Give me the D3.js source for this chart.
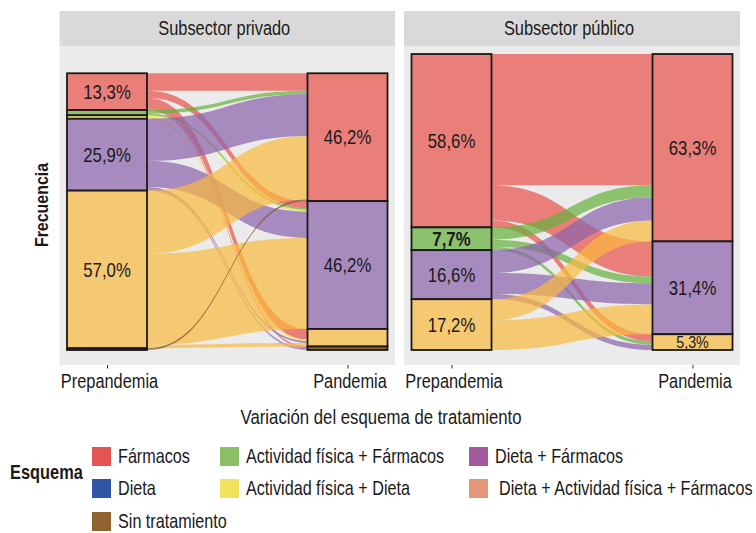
<!DOCTYPE html>
<html>
<head>
<meta charset="utf-8">
<script src="https://cdn.jsdelivr.net/npm/d3@7"></script>
<style>
  body { margin: 0; background: #fff; }
  text { font-family: "Liberation Sans", Arial, sans-serif; fill: #1a1a1a; }
</style>
</head>
<body>
<div id="chart"></div>
<script>
// Axis and panel labels
const periods = ["Prepandemia", "Pandemia"];
const panels = ["Subsector privado", "Subsector público"];

// Stratum order, top to bottom
const strata = [
  "Fármacos",
  "Actividad física + Fármacos",
  "Actividad física + Dieta",
  "Dieta + Fármacos",
  "Dieta + Actividad física + Fármacos",
  "Sin tratamiento"
];

// Legend order (filled by row, 3 columns)
const legendItems = [
  "Fármacos", "Actividad física + Fármacos", "Dieta + Fármacos",
  "Dieta", "Actividad física + Dieta", "Dieta + Actividad física + Fármacos",
  "Sin tratamiento"
];

// Patients moving from prepandemia scheme to pandemia scheme
const privadoFlows = [
  ["Fármacos", "Fármacos", 10],
  ["Fármacos", "Dieta + Fármacos", 4],
  ["Fármacos", "Dieta + Actividad física + Fármacos", 6],
  ["Fármacos", "Sin tratamiento", 1],
  ["Actividad física + Fármacos", "Fármacos", 2],
  ["Actividad física + Fármacos", "Dieta + Fármacos", 1],
  ["Actividad física + Dieta", "Dieta + Fármacos", 1],
  ["Actividad física + Dieta", "Dieta + Actividad física + Fármacos", 1],
  ["Dieta + Fármacos", "Fármacos", 24],
  ["Dieta + Fármacos", "Dieta + Fármacos", 15],
  ["Dieta + Fármacos", "Dieta + Actividad física + Fármacos", 1],
  ["Dieta + Fármacos", "Sin tratamiento", 1],
  ["Dieta + Actividad física + Fármacos", "Fármacos", 36],
  ["Dieta + Actividad física + Fármacos", "Dieta + Fármacos", 52],
  ["Dieta + Actividad física + Fármacos", "Dieta + Actividad física + Fármacos", 2],
  ["Sin tratamiento", "Fármacos", 1]
];

const publicoFlows = [
  ["Fármacos", "Fármacos", 75],
  ["Fármacos", "Dieta + Fármacos", 20],
  ["Fármacos", "Dieta + Actividad física + Fármacos", 4],
  ["Actividad física + Fármacos", "Fármacos", 7],
  ["Actividad física + Fármacos", "Dieta + Fármacos", 4],
  ["Actividad física + Fármacos", "Dieta + Actividad física + Fármacos", 2],
  ["Dieta + Fármacos", "Fármacos", 13],
  ["Dieta + Fármacos", "Dieta + Fármacos", 12],
  ["Dieta + Fármacos", "Dieta + Actividad física + Fármacos", 3],
  ["Dieta + Actividad física + Fármacos", "Fármacos", 12],
  ["Dieta + Actividad física + Fármacos", "Dieta + Fármacos", 17]
];

// Strata that carry a percentage label, per panel and period
const labelled = [
  [["Fármacos", "Dieta + Fármacos", "Dieta + Actividad física + Fármacos"], ["Fármacos", "Dieta + Fármacos"]],
  [["Fármacos", "Actividad física + Fármacos", "Dieta + Fármacos", "Dieta + Actividad física + Fármacos"],
   ["Fármacos", "Dieta + Fármacos", "Dieta + Actividad física + Fármacos"]]
];

const legendColor = {
  "Fármacos": "#e35452",
  "Dieta": "#2f56a4",
  "Sin tratamiento": "#8e6330",
  "Actividad física + Fármacos": "#8cbf68",
  "Actividad física + Dieta": "#f2e35f",
  "Dieta + Fármacos": "#a25a9d",
  "Dieta + Actividad física + Fármacos": "#e3967a"
};
// colours as they appear on the alluvium
const flowColor = {
  "Fármacos": "#e85147",
  "Actividad física + Fármacos": "#65b03a",
  "Actividad física + Dieta": "#eedd40",
  "Dieta + Fármacos": "#8a62ab",
  "Dieta + Actividad física + Fármacos": "#f9b93e",
  "Sin tratamiento": "#7a5228"
};
const strataColor = {
  "Fármacos": "#e97f78",
  "Actividad física + Fármacos": "#8dc26f",
  "Actividad física + Dieta": "#f0e36a",
  "Dieta + Fármacos": "#a78bbe",
  "Dieta + Actividad física + Fármacos": "#f5c872",
  "Sin tratamiento": "#8e6330"
};

const width = 756, height = 533;
const svg = d3.select("#chart").append("svg").attr("width", width).attr("height", height);

// condensed look: squeeze text horizontally around its anchor
const squeeze = 0.84;
function place(sel, x, y, s = squeeze) {
  return sel.attr("transform", `translate(${x},${y}) scale(${s},1)`);
}

const panelBox = [[59.5, 395], [404, 740]];
const panelTop = 46, panelBottom = 365;
const allFlows = [privadoFlows, publicoFlows];
const maxTotal = d3.max(allFlows, (f) => d3.sum(f, (d) => d[2]));
const y = d3.scaleLinear().domain([0, maxTotal]).range([350, 54]);
const k = y(0) - y(1);
const stratW = 80;
const fmt = (v) => d3.format(".1f")(v).replace(".", ",") + "%";

allFlows.forEach((flows, p) => {
  const [px0, px1] = panelBox[p];
  const g = svg.append("g");

  g.append("rect").attr("x", px0).attr("y", 11).attr("width", px1 - px0).attr("height", panelTop - 11).attr("fill", "#d9d9d9");
  g.append("rect").attr("x", px0).attr("y", panelTop).attr("width", px1 - px0).attr("height", panelBottom - panelTop).attr("fill", "#ebebeb");
  place(g.append("text"), (px0 + px1) / 2 - 3, 28.5).attr("dy", "0.35em")
    .attr("text-anchor", "middle").style("font-size", "19.5px").text(panels[p]);

  const x = d3.scalePoint().domain(periods).range([px0 + 47.5, px1 - 47.5]);
  const total = d3.sum(flows, (d) => d[2]);

  // stack strata on both axes
  const pos = periods.map((per, a) => {
    const counts = d3.rollup(flows, (v) => d3.sum(v, (d) => d[2]), (d) => d[a]);
    let cum = total;
    const out = [];
    strata.forEach((s) => {
      const n = counts.get(s) || 0;
      if (n > 0) {
        out.push({ s, n, y0: y(cum), y1: y(cum - n) });
        cum -= n;
      }
    });
    return out;
  });

  // flow positions: left sorted by destination, right sorted by source
  const order = (s) => strata.indexOf(s);
  const fl = flows.map((d) => ({ from: d[0], to: d[1], n: d[2] }));
  pos[0].forEach((st) => {
    let c = st.y0;
    fl.filter((f) => f.from === st.s).sort((a, b) => order(a.to) - order(b.to))
      .forEach((f) => { f.ya = c; c += f.n * k; });
  });
  pos[1].forEach((st) => {
    let c = st.y0;
    fl.filter((f) => f.to === st.s).sort((a, b) => order(a.from) - order(b.from))
      .forEach((f) => { f.yb = c; c += f.n * k; });
  });

  const xa = x(periods[0]) + stratW / 2, xb = x(periods[1]) - stratW / 2, xm = (xa + xb) / 2;
  g.selectAll(".flow").data(fl).enter().append("path")
    .attr("d", (f) => {
      const h = f.n * k;
      return `M${xa},${f.ya}C${xm},${f.ya} ${xm},${f.yb} ${xb},${f.yb}` +
        `L${xb},${f.yb + h}C${xm},${f.yb + h} ${xm},${f.ya + h} ${xa},${f.ya + h}Z`;
    })
    .attr("fill", (f) => flowColor[f.from]).attr("fill-opacity", 0.7);

  pos.forEach((col, a) => {
    const cx = x(periods[a]);
    g.selectAll(null).data(col).enter().append("rect")
      .attr("x", cx - stratW / 2).attr("y", (d) => d.y0)
      .attr("width", stratW).attr("height", (d) => d.y1 - d.y0)
      .attr("fill", (d) => strataColor[d.s]).attr("stroke", "#1a1a1a").attr("stroke-width", 1.8);
    g.selectAll(null).data(col.filter((d) => labelled[p][a].includes(d.s))).enter().append("text")
      .attr("transform", (d) => `translate(${cx},${(d.y0 + d.y1) / 2}) scale(${squeeze},1)`)
      .attr("dy", "0.36em")
      .attr("text-anchor", "middle")
      .style("font-size", (d) => (d.y1 - d.y0 < 20 ? "17px" : "20px"))
      .style("font-weight", (d) => (d.s === "Actividad física + Fármacos" ? "bold" : "normal"))
      .text((d) => fmt((d.n / total) * 100));
  });

  // x axis
  const ax = g.append("g").attr("transform", `translate(0,${panelBottom})`)
    .call(d3.axisBottom(x).tickSize(3.5).tickPadding(6));
  ax.select(".domain").remove();
  ax.selectAll("line").attr("stroke", "#333");
  ax.selectAll("text").style("font-size", "19.5px").attr("fill", "#1a1a1a")
    .attr("transform", `translate(2,0) scale(${squeeze},1)`)
    .style("font-family", "'Liberation Sans', Arial, sans-serif");
});

place(svg.append("text"), 381, 417, 0.86).attr("dy", "0.35em")
  .attr("text-anchor", "middle").style("font-size", "19.5px").text("Variación del esquema de tratamiento");
svg.append("text").attr("transform", `translate(41,205) rotate(-90) scale(${squeeze},1)`).attr("dy", "0.35em")
  .attr("text-anchor", "middle").style("font-size", "19px").style("font-weight", "bold").text("Frecuencia");

// legend
const legend = svg.append("g");
place(legend.append("text"), 10, 472).attr("dy", "0.35em")
  .style("font-size", "19.5px").style("font-weight", "bold").text("Esquema");
const colX = [92, 220, 469];
const rowY = [447, 479, 512];
legend.selectAll("rect").data(legendItems).enter().append("rect")
  .attr("x", (d, i) => colX[i % 3]).attr("y", (d, i) => rowY[Math.floor(i / 3)])
  .attr("width", 19).attr("height", 19).attr("fill", (d) => legendColor[d]);
legend.selectAll(".lt").data(legendItems).enter().append("text")
  .attr("transform", (d, i) => `translate(${colX[i % 3] + 26 + (i === 5 ? 4 : 0)},${rowY[Math.floor(i / 3)] + 9}) scale(0.83,1)`)
  .attr("dy", "0.35em").style("font-size", "19.5px").text((d) => d);
</script>
</body>
</html>
